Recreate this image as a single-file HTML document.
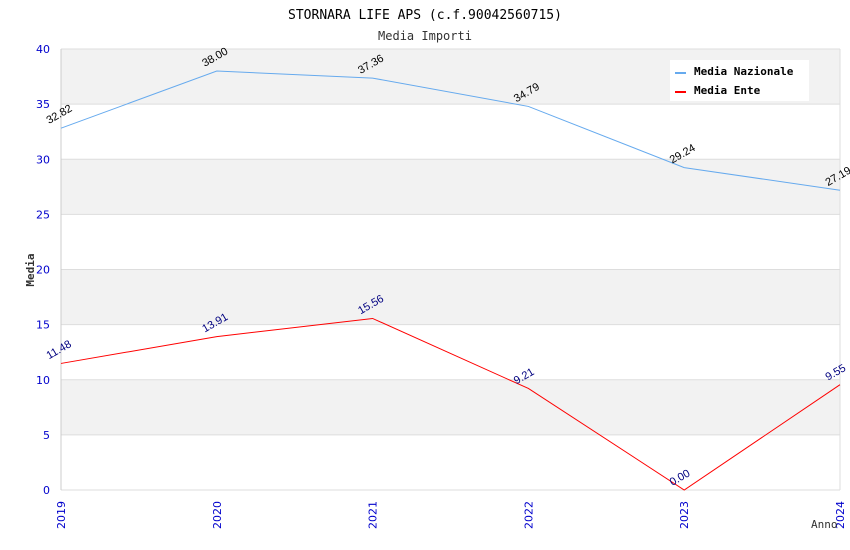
<!DOCTYPE html>
<html><head><meta charset="utf-8"><style>
body{margin:0;background:#fff;}
svg{display:block;}
</style></head><body>
<svg id="chart" width="850" height="550" xmlns="http://www.w3.org/2000/svg">
<text x="425" y="19" text-anchor="middle" font-family="'DejaVu Sans Mono','Liberation Mono',monospace" font-size="13" fill="#000">STORNARA LIFE APS (c.f.90042560715)</text>
<text x="425" y="40" text-anchor="middle" font-family="'DejaVu Sans Mono','Liberation Mono',monospace" font-size="12" fill="#333">Media Importi</text>
<g id="bands"></g>
<g id="grid"></g>
<g id="axes"></g>
<g id="series"></g>
<text transform="translate(34,270) rotate(-90)" text-anchor="middle" font-family="'DejaVu Sans Mono',monospace" font-size="11" font-weight="bold" fill="#333">Media</text>
<text x="811" y="528" font-family="'DejaVu Sans Mono',monospace" font-size="11" fill="#333">Anno</text>
<g>
<rect x="670" y="60" width="139" height="41" fill="#fff"/>
<line x1="675" y1="73" x2="686" y2="73" stroke="#66aaee" stroke-width="2"/>
<text x="694" y="75" font-family="'DejaVu Sans Mono',monospace" font-size="11" font-weight="bold">Media Nazionale</text>
<line x1="675" y1="92" x2="686" y2="92" stroke="#ff0000" stroke-width="2"/>
<text x="694" y="94" font-family="'DejaVu Sans Mono',monospace" font-size="11" font-weight="bold">Media Ente</text>
</g>
</svg>
<script>
const years = ["2019","2020","2021","2022","2023","2024"];
const nazionale = [32.82, 38.00, 37.36, 34.79, 29.24, 27.19];
const ente = [11.48, 13.91, 15.56, 9.21, 0.00, 9.55];
const yTicks = [0,5,10,15,20,25,30,35,40];
const NS="http://www.w3.org/2000/svg";
const L=61,R=840,T=49,B=490,YMAX=40;
const x=i=>L+i*(R-L)/(years.length-1);
const y=v=>B-v*(B-T)/YMAX;
function mk(tag,attrs,parent,txt){const e=document.createElementNS(NS,tag);for(const k in attrs)e.setAttribute(k,attrs[k]);if(txt!==undefined)e.textContent=txt;document.getElementById(parent).appendChild(e);return e;}
for(let i=0;i<yTicks.length-1;i++){
  if((yTicks.length-2-i)%2===0){
    const r=mk('rect',{x:L,y:y(yTicks[i+1]),width:R-L,height:y(yTicks[i])-y(yTicks[i+1]),fill:'#f2f2f2'},'bands');
    
    
  }
}
yTicks.forEach(t=>{
  const g=mk('line',{x1:L,x2:R,y1:y(t),y2:y(t),stroke:'#dddddd','stroke-width':1},'grid');
  
  
  const lb=mk('text',{x:L-11,y:y(t)+4,'text-anchor':'end','font-family':"'DejaVu Sans',sans-serif",'font-size':11,fill:'#0000cc'},'axes',String(t));
  
  
});
mk('line',{x1:L,x2:L,y1:T,y2:B,stroke:'#cccccc'},'axes');
mk('line',{x1:R,x2:R,y1:T,y2:B,stroke:'#dddddd'},'axes');
years.forEach((yr,i)=>{
  const lb=mk('text',{transform:`translate(${x(i)+4},${B+39}) rotate(-90)`,'font-family':"'DejaVu Sans',sans-serif",'font-size':11,fill:'#0000cc'},'axes',yr);
  
  
});
function series(vals,color,lblColor,name){
  const p=mk('polyline',{points:vals.map((v,i)=>x(i)+','+y(v)).join(' '),fill:'none',stroke:color,'stroke-width':1},'series');
  
  
  vals.forEach((v,i)=>{
    const t=mk('text',{transform:`translate(${x(i)-12},${y(v)-4}) rotate(-30)`,'font-family':"'Liberation Sans',sans-serif",'font-size':11,fill:lblColor},'series',v.toFixed(2));
    
    
  });
}
series(nazionale,'#66aaee','#000','nazionale');
series(ente,'#ff0000','#000080','ente');
</script>
</body></html>
